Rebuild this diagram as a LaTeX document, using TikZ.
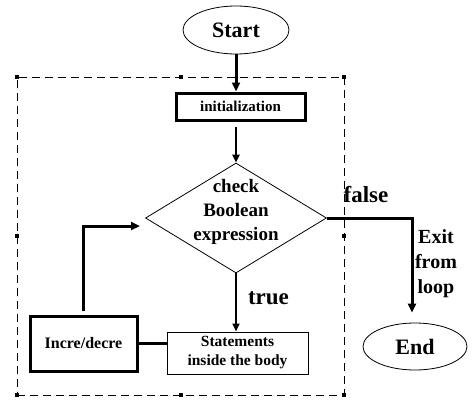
\documentclass[tikz,border=0pt]{standalone}
\usepackage{fontspec}
\setmainfont{Liberation Serif}
\usetikzlibrary{shapes.geometric,arrows.meta,calc}
\begin{document}
\begin{tikzpicture}[x=1pt,y=1pt,
  every node/.style={font=\bfseries},
  term/.style={ellipse,draw,line width=0.8pt,inner sep=0pt,font=\fontsize{22}{24}\selectfont\bfseries},
  thickbox/.style={rectangle,draw,line width=3pt,inner sep=0pt},
  thinbox/.style={rectangle,draw,line width=1pt,inner sep=0pt},
  decbox/.style={diamond,draw,line width=0.8pt,inner sep=0pt,aspect=1.645},
  frame/.style={rectangle,draw,line width=0.8pt,dash pattern=on 8pt off 5pt,inner sep=0pt},
  handle/.style={rectangle,fill=black,minimum size=4pt,inner sep=0pt},
  arr/.style={-{Triangle[length=9pt,width=8pt]},line width=3pt},
  arrthin/.style={-{Triangle[length=8pt,width=7pt]},line width=2pt},
  thickline/.style={line width=3pt},
  lbl/.style={font=\fontsize{23}{25}\selectfont\bfseries,inner sep=0pt}
]
\useasboundingbox[fill=white] (0,0) rectangle (476,416);
% frame
\node[frame,minimum width=327pt,minimum height=318pt] (frame) at (180.5,180) {};
\foreach \a in {north west,north,north east,west,east,south west,south,south east}
  \node[handle] at (frame.\a) {};
% nodes
\node[term,minimum width=106pt,minimum height=48pt] (start) at (236,386) {Start};
\node[thickbox,minimum width=129pt,minimum height=27pt,font=\fontsize{15}{17}\selectfont\bfseries] (init) at (240.5,309.5) {initialization};
\node[decbox,minimum width=181pt,minimum height=110pt] (dec) at (236,198) {};
\node[align=center,inner sep=0pt,font=\fontsize{19}{24}\selectfont\bfseries] (dectext) at (236,204) {check\\Boolean\\expression};
\node[thinbox,minimum width=141pt,minimum height=42pt,align=center,font=\fontsize{15.5}{19}\selectfont\bfseries] (stmt) at (237.5,63) {Statements\\inside the body};
\node[thickbox,minimum width=107pt,minimum height=55pt,font=\fontsize{16}{18}\selectfont\bfseries] (inc) at (83.5,72.5) {Incre/decre};
\node[term,minimum width=104pt,minimum height=47pt] (endn) at (415,69.5) {End};
% labels
\node[lbl] (flbl) at (366,221) {false};
\node[lbl] (tlbl) at (268.5,118) {true};
\node[align=center,inner sep=0pt,font=\fontsize{20}{25}\selectfont\bfseries] (exitlbl) at (436,152) {Exit\\from\\loop};
% connectors
\draw[arr] (start.south) -- (start.south |- init.north);
\draw[arrthin,shorten <=5pt] (start.south |- init.south) -- (dec.north);
\draw[arrthin] (dec.south) -- (dec.south |- stmt.north);
\draw[arr,shorten >=10pt] (dec.east) -| ($(endn.north)+(-3,0)$);
\draw[thickline] (inc.east) -- (inc.east -| stmt.west);
\coordinate (lp) at (140,190);
\draw[arr,shorten <=4pt] (inc.north) |- (lp);
\end{tikzpicture}
\end{document}
